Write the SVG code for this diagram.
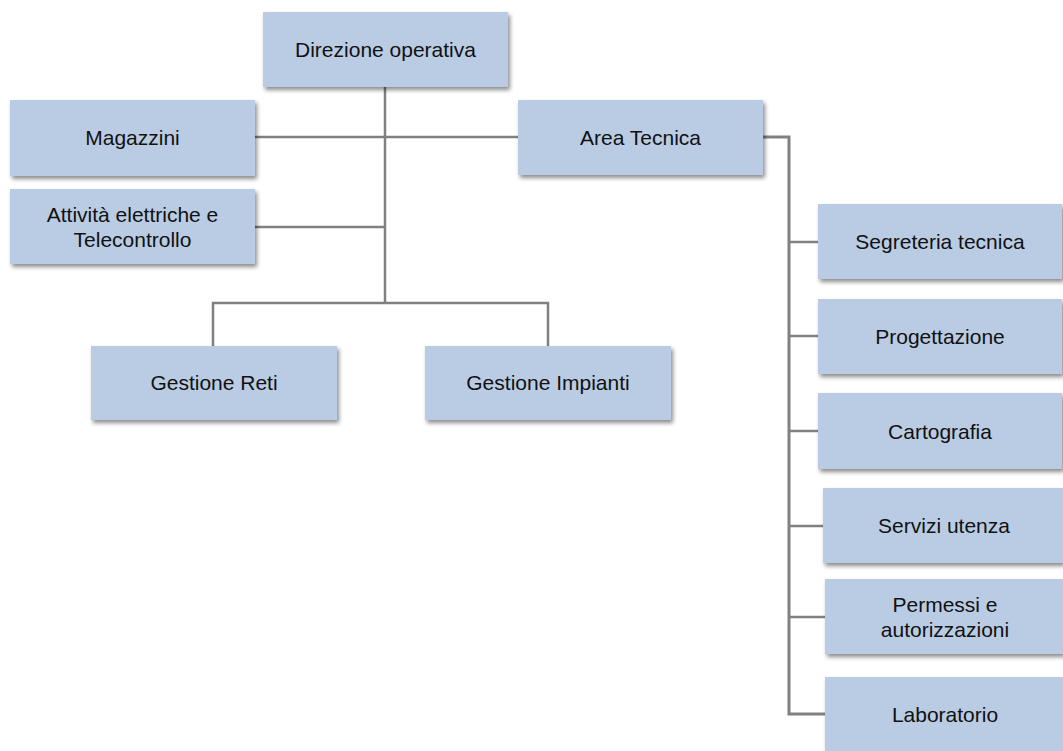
<svg xmlns="http://www.w3.org/2000/svg" width="1063" height="751" viewBox="0 0 1063 751">
<style>
.box{fill:#B9CCE4;filter:url(#sh)}
.lbl{font-family:"Liberation Sans",Arial,sans-serif;font-size:21px;fill:#111;text-anchor:middle}
.con{fill:none;stroke:#808080;stroke-width:2.5}
</style>
<defs>
<filter id="sh" x="-10%" y="-20%" width="120%" height="150%">
<feDropShadow dx="2" dy="3" stdDeviation="2" flood-color="#000" flood-opacity="0.45"/>
</filter>
</defs>
<rect width="1063" height="751" fill="#fff"/>
<g id="connectors">
<path class="con" d="M385,87 V303"/>
<path class="con" d="M255,137 H518"/>
<path class="con" d="M255,227 H385"/>
<path class="con" d="M213,346 V303 H548 V346"/>
<path class="con" d="M763,137 H789 V714 H825" style="stroke-width:3"/>
<path class="con" d="M789,242 H818"/>
<path class="con" d="M789,336 H818"/>
<path class="con" d="M789,431 H818"/>
<path class="con" d="M789,526 H823"/>
<path class="con" d="M789,617 H825"/>
</g>
<g id="n-direzione"><rect class="box" x="263" y="12" width="245" height="75"/><text class="lbl" x="385.5" y="57">Direzione operativa</text></g>
<g id="n-magazzini"><rect class="box" x="10" y="100" width="245" height="76"/><text class="lbl" x="132.5" y="145">Magazzini</text></g>
<g id="n-attivita"><rect class="box" x="10" y="189" width="245" height="75"/><text class="lbl" x="132.5" y="221.5">Attività elettriche e</text><text class="lbl" x="132.5" y="246.5">Telecontrollo</text></g>
<g id="n-area"><rect class="box" x="518" y="100" width="245" height="75"/><text class="lbl" x="640.5" y="145">Area Tecnica</text></g>
<g id="n-reti"><rect class="box" x="91" y="346" width="246" height="74"/><text class="lbl" x="214" y="390">Gestione Reti</text></g>
<g id="n-impianti"><rect class="box" x="425" y="346" width="246" height="74"/><text class="lbl" x="548" y="390">Gestione Impianti</text></g>
<g id="n-segreteria"><rect class="box" x="818" y="204" width="244" height="75"/><text class="lbl" x="940" y="249">Segreteria tecnica</text></g>
<g id="n-progettazione"><rect class="box" x="818" y="299" width="244" height="75"/><text class="lbl" x="940" y="344">Progettazione</text></g>
<g id="n-cartografia"><rect class="box" x="818" y="393" width="244" height="76"/><text class="lbl" x="940" y="438.5">Cartografia</text></g>
<g id="n-servizi"><rect class="box" x="823" y="488" width="240" height="75"/><text class="lbl" x="944" y="533">Servizi utenza</text></g>
<g id="n-permessi"><rect class="box" x="825" y="579" width="238" height="75"/><text class="lbl" x="945" y="612">Permessi e</text><text class="lbl" x="945" y="637">autorizzazioni</text></g>
<g id="n-laboratorio"><rect class="box" x="825" y="677" width="238" height="75"/><text class="lbl" x="945" y="722">Laboratorio</text></g>
</svg>
